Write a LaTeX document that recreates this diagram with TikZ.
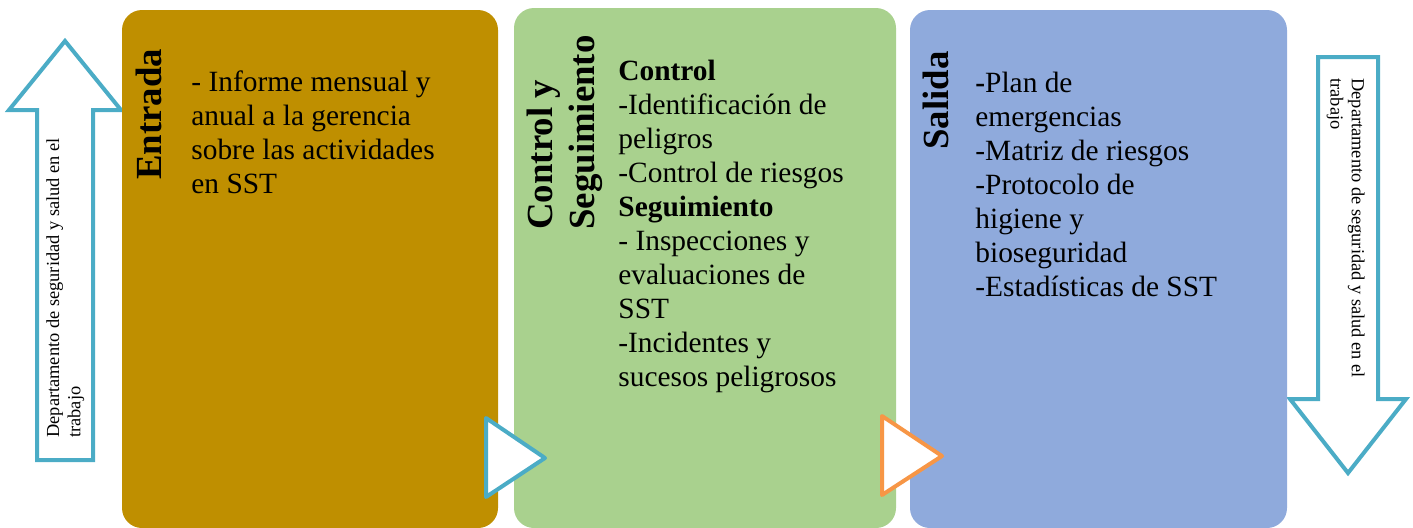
\documentclass[tikz,border=0pt]{standalone}
\usepackage{fontspec}
\setmainfont{Liberation Serif}
\definecolor{oro}{HTML}{BF8F00}
\definecolor{verde}{HTML}{A9D18E}
\definecolor{lila}{HTML}{8FAADC}
\definecolor{turquesa}{HTML}{4BACC6}
\definecolor{naranja}{HTML}{F79646}
\begin{document}
\begin{tikzpicture}[x=0.5pt,y=-0.5pt,
    caja/.style={rectangle,rounded corners=10pt,inner sep=0pt,minimum height=259pt},
    titulo/.style={font=\fontsize{18.4}{20.8}\selectfont\bfseries,inner sep=0pt,align=left,rotate=90},
    texto/.style={font=\fontsize{14.7}{17}\selectfont,inner sep=0pt,align=left,anchor=north west},
    lado/.style={font=\fontsize{9.2}{10.6}\selectfont,inner sep=0pt,align=left,anchor=north west},
    flecha/.style={draw=turquesa,line width=2pt,fill=white}]
    \useasboundingbox (0,0) rectangle (1413,527);
    % flechas laterales
    \draw[flecha] (37,460) -- (37,110) -- (9,110) -- (65,41) -- (121,110) -- (93,110) -- (93,460) -- cycle;
    \node[lado,rotate=90] (depizq) at (46,438) {Departamento de seguridad y salud en el\\trabajo};
    \draw[flecha] (1318,57) -- (1378,57) -- (1378,399) -- (1406,399) -- (1348,473) -- (1290,399) -- (1318,399) -- cycle;
    \node[lado,rotate=-90] (depder) at (1365,78) {Departamento de seguridad y salud en el\\trabajo};
    % cajas
    \node[caja,fill=oro,minimum width=188pt] (entrada) at (310,269) {};
    \node[caja,fill=verde,minimum width=191pt,minimum height=260pt] (control) at (705,268) {};
    \node[caja,fill=lila,minimum width=188.5pt] (salida) at (1098.5,269) {};
    \node[titulo,anchor=base west] (tentrada) at (161,180) {Entrada};
    \node[titulo,anchor=south west] (tcontrol) at (603,230) {Control y\\Seguimiento};
    \node[titulo,anchor=base west] (tsalida) at (948,150) {Salida};
    \node[texto] (ientrada) at (191,70) {- Informe mensual y\\anual a la gerencia\\sobre las actividades\\en SST};
    \node[texto] (icontrol) at (618,60) {\textbf{Control}\\-Identificación de\\peligros\\-Control de riesgos\\\textbf{Seguimiento}\\- Inspecciones y\\evaluaciones de\\SST\\-Incidentes y\\sucesos peligrosos};
    \node[texto] (isalida) at (975,72) {\textbf{-}Plan de\\emergencias\\-Matriz de riesgos\\-Protocolo de\\higiene y\\bioseguridad\\-Estadísticas de SST};
    % triangulos
    \draw[flecha,line join=round] (486,418) -- (545,458) -- (486,497) -- cycle;
    \draw[flecha,draw=naranja,line join=round] (882,416) -- (942,456) -- (882,495) -- cycle;
\end{tikzpicture}
\end{document}
